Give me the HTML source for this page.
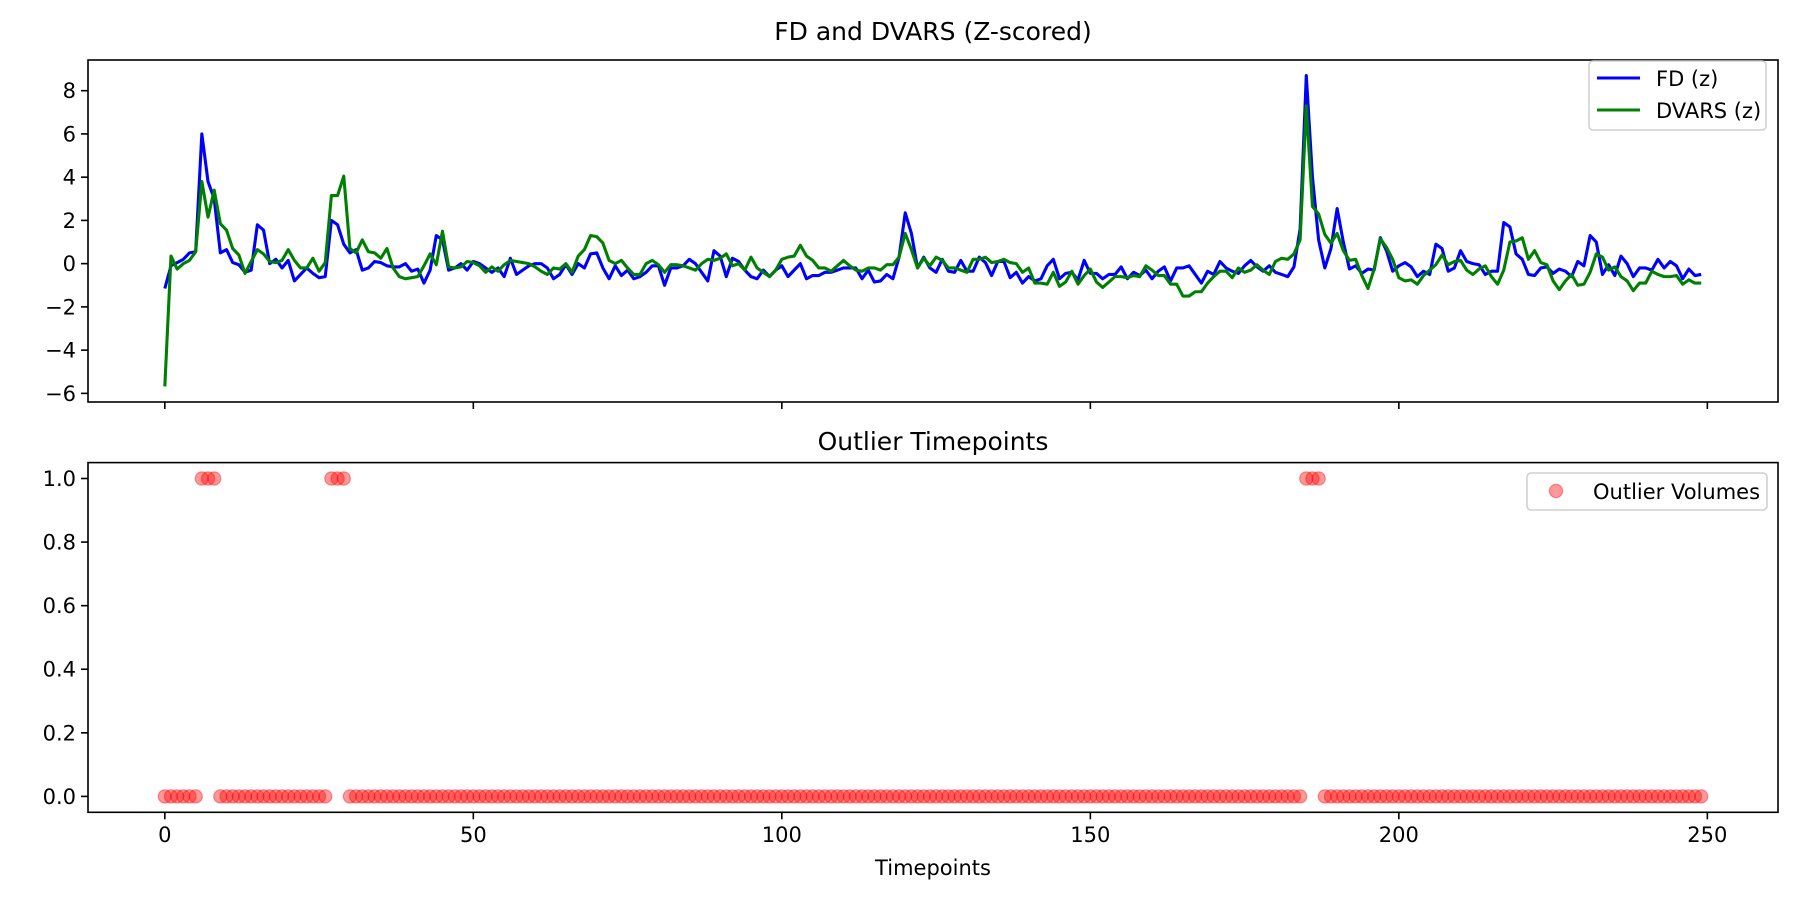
<!DOCTYPE html>
<html><head><meta charset="utf-8"><style>
body{margin:0;background:#fff}
svg{display:block;font-family:"DejaVu Sans","Liberation Sans",sans-serif}
</style></head><body>
<svg id="fig" width="1800" height="900" viewBox="0 0 1800 900" xmlns="http://www.w3.org/2000/svg">
<rect width="1800" height="900" fill="#fff"/>
<g id="topPanel"></g>
<g id="botPanel"></g>
</svg>
<script>
const fdValues=[-1.15,-0.1,0.05,0.2,0.5,0.55,6.0,3.8,3.0,0.5,0.65,0.05,-0.05,-0.4,-0.3,1.8,1.55,0.0,0.2,-0.2,0.15,-0.8,-0.5,-0.2,-0.45,-0.65,-0.6,2.0,1.8,0.9,0.5,0.65,-0.3,-0.2,0.1,0.05,-0.1,-0.15,-0.15,0.0,-0.35,-0.25,-0.9,-0.3,1.3,1.1,-0.3,-0.2,0.0,-0.3,0.1,0.0,-0.2,-0.4,-0.2,-0.6,0.25,-0.5,-0.3,-0.1,0.0,0.0,-0.2,-0.7,-0.5,-0.05,-0.5,0.0,-0.2,0.45,0.5,-0.2,-0.7,-0.1,-0.55,-0.3,-0.7,-0.6,-0.4,-0.1,-0.1,-1.0,-0.2,-0.2,-0.1,0.2,0.0,-0.4,-0.8,0.6,0.35,-0.6,0.25,0.1,-0.3,-0.6,-0.7,-0.3,-0.6,-0.3,-0.1,-0.6,-0.3,0.0,-0.7,-0.55,-0.55,-0.4,-0.4,-0.3,-0.2,-0.2,-0.2,-0.7,-0.3,-0.85,-0.8,-0.5,-0.7,0.3,2.35,1.4,-0.2,0.3,-0.2,-0.4,0.2,-0.35,-0.4,0.15,-0.35,-0.35,0.3,0.05,-0.55,0.1,0.1,-0.65,-0.4,-0.9,-0.6,-0.8,-0.7,-0.1,0.2,-0.7,-0.45,-0.4,-0.75,0.15,-0.45,-0.45,-0.7,-0.5,-0.5,-0.15,-0.7,-0.4,-0.55,-0.3,-0.7,-0.35,-0.15,-0.8,-0.2,-0.2,-0.1,-0.5,-0.9,-0.35,-0.5,0.1,-0.2,-0.35,-0.45,-0.1,0.15,-0.15,-0.35,-0.1,-0.4,-0.5,-0.6,-0.15,1.6,8.7,4.0,1.1,-0.2,0.7,2.55,1.0,-0.25,-0.1,-0.45,-0.25,-0.3,1.2,0.6,-0.35,-0.1,0.05,-0.15,-0.6,-0.35,-0.5,0.9,0.7,-0.35,-0.2,0.6,0.1,0.0,-0.05,-0.5,-0.35,-0.35,1.9,1.7,0.45,0.2,-0.5,-0.55,-0.2,-0.15,-0.45,-0.25,-0.35,-0.6,0.1,-0.1,1.3,1.0,-0.5,-0.05,-0.55,0.35,0.0,-0.6,-0.2,-0.2,-0.3,0.2,-0.2,0.1,-0.1,-0.7,-0.25,-0.55,-0.5];
const dvarsValues=[-5.68,0.35,-0.25,0.0,0.15,0.55,3.8,2.15,3.4,1.85,1.55,0.7,0.4,-0.45,0.1,0.65,0.45,0.1,0.05,0.15,0.65,0.15,-0.2,-0.2,0.25,-0.35,0.05,3.15,3.15,4.05,0.7,0.5,1.1,0.55,0.5,0.25,0.7,-0.2,-0.6,-0.7,-0.65,-0.6,-0.1,0.45,-0.05,1.5,-0.15,-0.2,-0.15,0.1,0.05,-0.1,-0.4,-0.15,-0.35,-0.05,0.15,0.1,0.05,0.0,-0.15,-0.35,-0.5,-0.2,-0.25,0.0,-0.4,0.35,0.65,1.3,1.25,0.95,0.15,0.0,0.15,-0.2,-0.5,-0.5,0.0,0.15,-0.05,-0.4,-0.05,-0.05,-0.1,-0.2,-0.3,0.0,0.2,0.15,0.25,0.45,-0.1,0.0,-0.3,0.3,-0.2,-0.4,-0.6,-0.3,0.2,0.3,0.35,0.85,0.35,0.15,-0.2,-0.2,-0.35,-0.1,0.15,-0.1,-0.3,-0.35,-0.2,-0.2,-0.3,-0.05,-0.05,0.3,1.4,0.65,-0.2,0.25,-0.1,0.3,0.15,-0.2,-0.2,-0.3,-0.4,0.2,0.2,0.3,0.05,0.1,0.2,0.05,0.0,-0.4,-0.2,-0.9,-0.9,-0.95,-0.4,-1.05,-0.85,-0.35,-0.95,-0.55,-0.25,-0.85,-1.1,-0.85,-0.6,-0.6,-0.65,-0.55,-0.6,-0.1,-0.3,-0.55,-0.55,-0.95,-0.95,-1.5,-1.5,-1.3,-1.3,-0.9,-0.6,-0.35,-0.35,-0.65,-0.2,-0.4,-0.3,-0.05,-0.3,-0.5,0.1,0.25,0.2,0.45,1.1,7.3,2.65,2.3,1.35,0.95,1.4,0.6,0.15,0.2,-0.55,-1.15,-0.25,1.15,0.75,0.2,-0.65,-0.8,-0.75,-0.95,-0.55,-0.3,-0.05,0.4,-0.05,0.1,0.15,-0.3,-0.5,-0.25,-0.1,-0.6,-0.95,-0.3,1.0,1.05,1.2,0.2,0.6,0.05,-0.05,-0.8,-1.2,-0.8,-0.5,-1.0,-0.95,-0.4,0.45,0.3,-0.3,-0.15,-0.6,-0.8,-1.25,-0.9,-0.9,-0.35,-0.5,-0.6,-0.6,-0.55,-0.95,-0.75,-0.9,-0.9];
const outlierIndices=[6,7,8,27,28,29,185,186,187];
const xTicks=[0,50,100,150,200,250];
const yTicksTop=[-6,-4,-2,0,2,4,6,8];
const yTicksBot=[0.0,0.2,0.4,0.6,0.8,1.0];
const yTickLabelsBot=["0.0","0.2","0.4","0.6","0.8","1.0"];

const NS="http://www.w3.org/2000/svg";
function mk(parent,tag,attrs,text){const e=document.createElementNS(NS,tag);for(const k in attrs)e.setAttribute(k,attrs[k]);if(text!==undefined)e.textContent=text;parent.appendChild(e);return e;}
const AL=88,AR=1778;
const nPts=fdValues.length;
const xmin=-(nPts-1)*0.05,xmax=(nPts-1)*1.05;
const X=v=>AL+(v-xmin)/(xmax-xmin)*(AR-AL);
const allVals=fdValues.concat(dvarsValues);
const dmin=Math.min(...allVals),dmax=Math.max(...allVals),dpad=(dmax-dmin)*0.05;
const T1=60,B1=402;
const Y1=v=>B1-(v-(dmin-dpad))/((dmax+dpad)-(dmin-dpad))*(B1-T1);
const T2=462.6,B2=812.3;
const Y2=v=>B2-(v+0.05)/1.1*(B2-T2);
const topPanel=document.getElementById('topPanel'),botPanel=document.getElementById('botPanel');

let t=mk(topPanel,'text',{x:(AL+AR)/2,y:40,'font-size':25,'text-anchor':'middle',fill:'#000'},'FD and DVARS (Z-scored)');


for(const v of yTicksTop){
 const g=mk(topPanel,'g',{});
 
 
 mk(g,'line',{x1:AL-7,x2:AL,y1:Y1(v),y2:Y1(v),stroke:'#000','stroke-width':1.6});
 mk(g,'text',{x:AL-12,y:Y1(v)+7.5,'font-size':21,'text-anchor':'end'},v<0?'\u2212'+(-v):String(v));
}
for(const v of xTicks){
 const l=mk(topPanel,'line',{x1:X(v),x2:X(v),y1:B1,y2:B1+7,stroke:'#000','stroke-width':1.6});
 
 
}
function linePath(arr){return arr.map((v,i)=>(i?'L':'M')+X(i).toFixed(2)+' '+Y1(v).toFixed(2)).join(' ');}
let p=mk(topPanel,'path',{d:linePath(fdValues),fill:'none',stroke:'#0000ff','stroke-width':3.1,'stroke-linejoin':'round'});


p=mk(topPanel,'path',{d:linePath(dvarsValues),fill:'none',stroke:'#008000','stroke-width':3.1,'stroke-linejoin':'round'});


let fr=mk(topPanel,'rect',{x:AL,y:T1,width:AR-AL,height:B1-T1,fill:'none',stroke:'#000','stroke-width':1.6});


let lg=mk(topPanel,'g',{});


mk(lg,'rect',{x:1589,y:61,width:177,height:69,rx:4,fill:'#fff',stroke:'#d0d0d0','stroke-width':1.6});
let e1=mk(lg,'g',{});


mk(e1,'line',{x1:1597,x2:1640,y1:78,y2:78,stroke:'#0000ff','stroke-width':3.1});
mk(e1,'text',{x:1656,y:86,'font-size':21},'FD (z)');
let e2=mk(lg,'g',{});


mk(e2,'line',{x1:1597,x2:1640,y1:110,y2:110,stroke:'#008000','stroke-width':3.1});
mk(e2,'text',{x:1656,y:118,'font-size':21},'DVARS (z)');

t=mk(botPanel,'text',{x:(AL+AR)/2,y:450,'font-size':25,'text-anchor':'middle'},'Outlier Timepoints');


yTicksBot.forEach((v,k)=>{
 const g=mk(botPanel,'g',{});
 
 
 mk(g,'line',{x1:AL-7,x2:AL,y1:Y2(v),y2:Y2(v),stroke:'#000','stroke-width':1.6});
 mk(g,'text',{x:AL-12,y:Y2(v)+7.5,'font-size':21,'text-anchor':'end'},yTickLabelsBot[k]);
});
for(const v of xTicks){
 const g=mk(botPanel,'g',{});
 
 
 mk(g,'line',{x1:X(v),x2:X(v),y1:B2,y2:B2+7,stroke:'#000','stroke-width':1.6});
 mk(g,'text',{x:X(v),y:842,'font-size':21,'text-anchor':'middle'},String(v));
}
t=mk(botPanel,'text',{x:(AL+AR)/2,y:875,'font-size':21,'text-anchor':'middle'},'Timepoints');


const mg=mk(botPanel,'g',{});


for(let i=0;i<nPts;i++){
 const v=outlierIndices.includes(i)?1:0;
 const c=mk(mg,'circle',{cx:X(i),cy:Y2(v),r:6.6,fill:'#ff0000','fill-opacity':0.4,stroke:'#ff0000','stroke-opacity':0.4,'stroke-width':1.2});
 
 
}
fr=mk(botPanel,'rect',{x:AL,y:T2,width:AR-AL,height:B2-T2,fill:'none',stroke:'#000','stroke-width':1.6});


lg=mk(botPanel,'g',{});


mk(lg,'rect',{x:1527,y:473,width:240,height:37,rx:4,fill:'#fff',stroke:'#d0d0d0','stroke-width':1.6});
mk(lg,'circle',{cx:1556,cy:491,r:6.6,fill:'#ff0000','fill-opacity':0.4,stroke:'#ff0000','stroke-opacity':0.4,'stroke-width':1.2});
mk(lg,'text',{x:1593,y:499,'font-size':21},'Outlier Volumes');
</script>
</body></html>
